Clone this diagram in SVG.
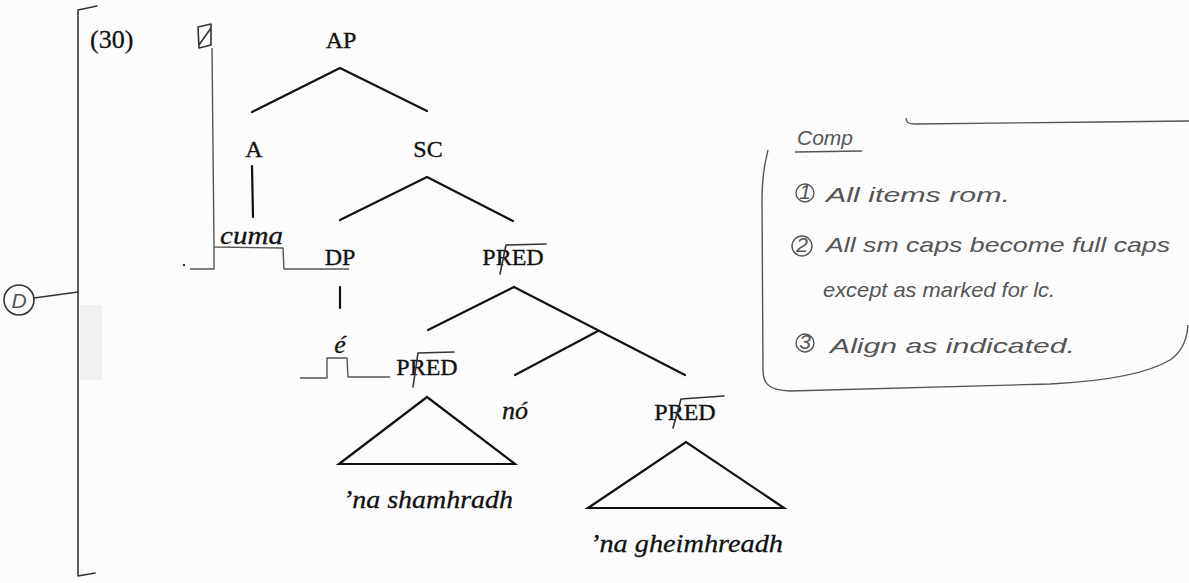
<svg xmlns="http://www.w3.org/2000/svg" width="1189" height="583" viewBox="0 0 1189 583">
<style>
.lbl{font-family:"Liberation Serif","Times New Roman",serif;font-size:24px;fill:#111;stroke:#111;stroke-width:0.35;text-anchor:middle}
.it{font-family:"Liberation Serif","Times New Roman",serif;font-size:26px;font-style:italic;fill:#111;stroke:#111;stroke-width:0.3}
.hw{font-family:"Liberation Sans",Arial,sans-serif;font-style:italic;font-size:21px;fill:#555}
.ln{stroke:#111;stroke-width:2.2;fill:none;stroke-linecap:round}
.pen{stroke:#333;stroke-width:1.6;fill:none;stroke-linecap:round;stroke-linejoin:round}
.gr{stroke:#555;stroke-width:1.4;fill:none;stroke-linejoin:round}
</style>
<rect width="1189" height="583" fill="#fcfcfc"/>
<!-- margin bracket -->
<g id="bracket">
<path class="pen" d="M97,6 L78,10 L78,576 L95,573"/>
<rect x="80" y="305" width="22" height="75" fill="#e6e6e6" opacity="0.5"/>
</g>
<g id="note-d">
<circle class="pen" cx="19" cy="300" r="15"/>
<text class="hw" x="19" y="308" text-anchor="middle" font-size="19">D</text>
<path class="pen" d="M34,298 L78,292"/>
</g>
<g id="ex-num"><text x="90" y="48" font-family="Liberation Serif,serif" font-size="26" fill="#111" stroke="#111" stroke-width="0.3">(30)</text></g>
<!-- alignment marks -->
<g id="align-mark">
<path class="pen" d="M198,27 L211,24 L211,45 L199,48 Z M199,45 L211,28"/>
<path class="gr" d="M212,48 L214,247 L283,248 L284,269 L349,269"/>
<path class="gr" d="M190,269 L214,269 L214,247"/>
<circle cx="184" cy="265" r="1.2" fill="#333"/>
<path class="gr" d="M300,378 L327,378 L327,358 L347,358 L348,377 L390,377"/>
</g>
<!-- nodes -->
<g id="n-AP"><text class="lbl" x="341" y="48">AP</text></g>
<g id="n-A"><text class="lbl" x="254" y="157">A</text></g>
<g id="n-SC"><text class="lbl" x="428" y="157">SC</text></g>
<g id="n-cuma"><text class="it" x="220" y="244" textLength="63" lengthAdjust="spacingAndGlyphs">cuma</text></g>
<g id="n-DP"><text class="lbl" x="340" y="265">DP</text></g>
<g id="n-PRED1"><text class="lbl" x="513" y="265">PRED</text><path class="pen" d="M500,274 L506,245 L546,244"/></g>
<g id="n-e"><text class="it" x="340" y="353" text-anchor="middle">é</text></g>
<g id="n-PRED2"><text class="lbl" x="427" y="375">PRED</text><path class="pen" d="M413,387 L418,353 L454,352"/></g>
<g id="n-no"><text class="it" x="515" y="419" text-anchor="middle">nó</text></g>
<g id="n-PRED3"><text class="lbl" x="685" y="420">PRED</text><path class="pen" d="M673,428 L681,399 L724,396"/></g>
<g id="n-shamhradh"><text class="it" x="343" y="508" textLength="170" lengthAdjust="spacingAndGlyphs">’na shamhradh</text></g>
<g id="n-gheimhreadh"><text class="it" x="590" y="552" textLength="193" lengthAdjust="spacingAndGlyphs">’na gheimhreadh</text></g>
<!-- connectors -->
<g id="connectors">
<path class="ln" d="M252,112 L340,68 L427,111"/>
<path class="ln" d="M252,166 L253,217" stroke-width="3"/>
<path class="ln" d="M340,220 L427,177 L513,221"/>
<path class="ln" d="M340,287 L340,308"/>
<path class="ln" d="M428,330 L514,287 L685,375"/>
<path class="ln" d="M598,331 L515,375"/>
<path class="ln" d="M339,464 L427,397 L515,464 Z"/>
<path class="ln" d="M588,508 L686,442 L784,508 Z"/>
</g>
<!-- editorial note box -->
<g id="note-box">
<path class="gr" d="M768,150 C764,165 762,180 762,200 L763,370 C763,385 770,390 790,391 L1050,384 C1110,381 1150,372 1170,360 C1182,352 1187,340 1188,325"/>
<path class="gr" d="M906,118 C906,122 908,124 915,124 L1100,122 L1189,121"/>
<text class="hw" x="797" y="145" font-size="21">Comp</text>
<path class="gr" d="M795,152 L862,151"/>
<circle class="gr" cx="805" cy="193" r="9"/><text class="hw" x="805" y="199" text-anchor="middle" font-size="15">1</text>
<text class="hw" x="826" y="202" font-size="22" textLength="184" lengthAdjust="spacingAndGlyphs">All items rom.</text>
<circle class="gr" cx="802" cy="246" r="10"/><text class="hw" x="802" y="252" text-anchor="middle" font-size="16">2</text>
<text class="hw" x="826" y="252" font-size="22" textLength="344" lengthAdjust="spacingAndGlyphs">All sm caps become full caps</text>
<text class="hw" x="823" y="297" font-size="22" textLength="232" lengthAdjust="spacingAndGlyphs">except as marked for lc.</text>
<circle class="gr" cx="805" cy="343" r="9"/><text class="hw" x="805" y="349" text-anchor="middle" font-size="15">3</text>
<text class="hw" x="830" y="353" font-size="22" textLength="245" lengthAdjust="spacingAndGlyphs">Align as indicated.</text>
</g>
</svg>
